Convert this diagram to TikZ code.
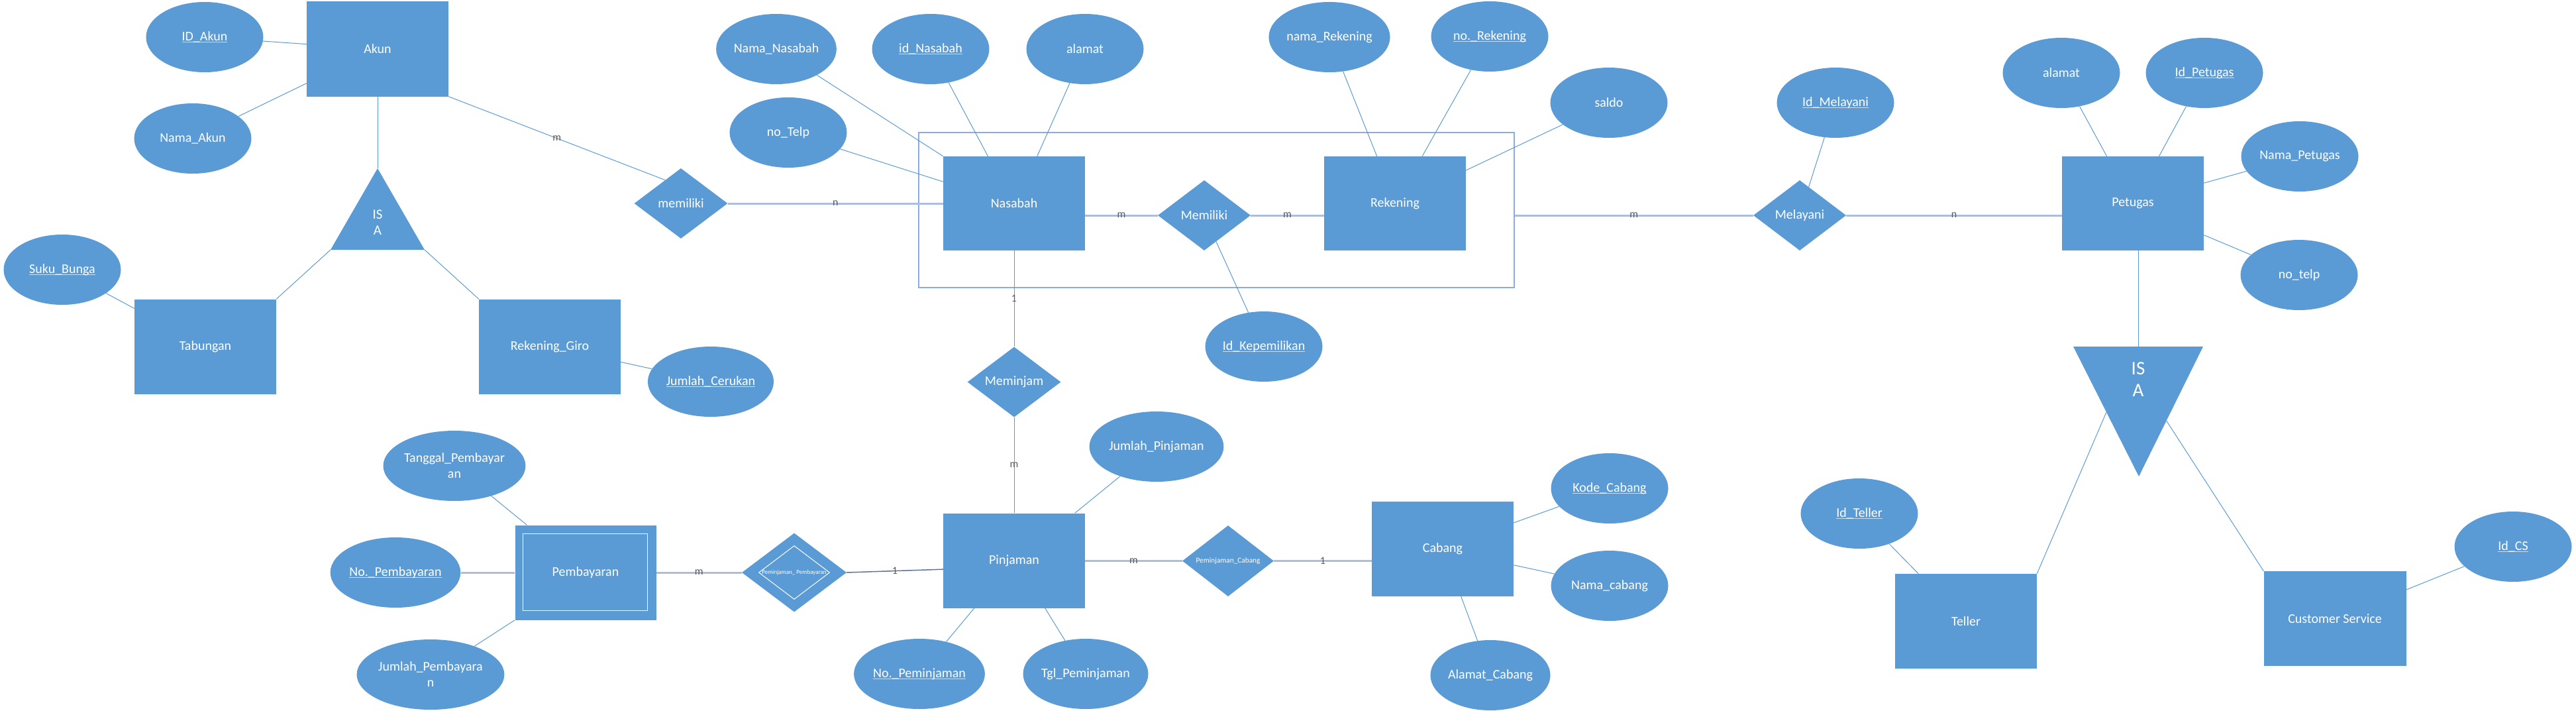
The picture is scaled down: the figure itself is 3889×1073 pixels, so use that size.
\documentclass[tikz,border=0pt]{standalone}
\usepackage{fontspec}
\setmainfont{Carlito}
\usetikzlibrary{shapes.geometric,calc}
\definecolor{fillb}{HTML}{5B9BD5}
\definecolor{thinl}{HTML}{5B9BD5}
\definecolor{thickl}{HTML}{A9BFDD}
\definecolor{darkl}{HTML}{5E7392}
\definecolor{lbl}{HTML}{595959}
\definecolor{aggc}{HTML}{8FAADC}
\definecolor{ulc}{HTML}{C9DDF0}
\newcommand\ulx[1]{\setbox0\hbox{#1}\rlap{\color{ulc}\rule[-3pt]{\wd0}{1.3pt}}\box0}
\begin{document}
\begin{tikzpicture}[x=1pt,y=-1pt,
  ent/.style={rectangle, fill=fillb, minimum width=214pt, minimum height=143pt, inner sep=0pt, text=white, font=\fontsize{20}{24}\selectfont},
  attr/.style={ellipse, fill=fillb, minimum width=177pt, minimum height=106pt, inner sep=0pt, text=white, align=center, font=\fontsize{20}{24}\selectfont},
  relsh/.style={diamond, fill=fillb, aspect=1.33, minimum width=141pt, minimum height=106pt, inner sep=0pt, text=white, font=\fontsize{20}{24}\selectfont},
  isatxt/.style={text=white, inner sep=0pt, font=\fontsize{21}{24}\selectfont},
  thinln/.style={draw=thinl, line width=1pt},
  thickln/.style={draw=thickl, line width=3pt},
  lab/.style={text=lbl, inner sep=1pt, font=\fontsize{16}{18}\selectfont}]
\useasboundingbox (0,0) rectangle (3889,1073);

% aggregation box
\node[draw=aggc, line width=1.5pt, minimum width=899pt, minimum height=234pt, inner sep=0pt] (agg) at (1836.5,317) {};

% entities
\node[ent] (akun) at (570,74) {Akun};
\node[ent] (tabungan) at (310,523) {Tabungan};
\node[ent] (giro) at (830,523) {Rekening\_Giro};
\node[ent, minimum height=142pt] (nasabah) at (1531,307) {Nasabah};
\node[ent, minimum height=142pt] (rekening) at (2106,307) {Rekening};
\node[ent, minimum height=142pt] (petugas) at (3220,307) {Petugas};
\node[ent] (pinjaman) at (1531,846) {Pinjaman};
\node[ent, minimum width=213pt] (pembayaran) at (884,864) {Pembayaran};
\draw[white, line width=1pt] ($(pembayaran.north west)+(12,13.5)$) rectangle ($(pembayaran.south east)+(-13,-14.5)$);
\node[ent] (cabang) at (2178,828) {Cabang};
\node[ent] (teller) at (2968,937.5) {Teller};
\node[ent, minimum width=215pt] (cs) at (3525,933.5) {Customer Service};

% attributes
\node[attr] (idakun) at (309,56) {\ulx{ID\_Akun}};
\node[attr] (namaakun) at (291,209) {Nama\_Akun};
\node[attr] (sukubunga) at (94,407) {\ulx{Suku\_Bunga}};
\node[attr] (jmlcerukan) at (1073,576) {\ulx{Jumlah\_Cerukan}};
\node[attr] (namanasabah) at (1172,74) {Nama\_Nasabah};
\node[attr] (idnasabah) at (1405,74) {\ulx{id\_Nasabah}};
\node[attr] (alamat1) at (1638,74) {alamat};
\node[attr] (notelp1) at (1190,200) {no\_Telp};
\node[attr] (namarek) at (2007,56) {nama\_Rekening};
\node[attr] (norek) at (2249,55) {\ulx{no.\_Rekening}};
\node[attr] (saldo) at (2429,155) {saldo};
\node[attr] (idkep) at (1908,523) {\ulx{Id\_Kepemilikan}};
\node[attr] (idmelayani) at (2771,155) {\ulx{Id\_Melayani}};
\node[attr] (alamat2) at (3112,110) {alamat};
\node[attr] (idpetugas) at (3328,110) {\ulx{Id\_Petugas}};
\node[attr] (namapetugas) at (3472,236) {Nama\_Petugas};
\node[attr] (notelp2) at (3471,415) {no\_telp};
\node[attr] (kodecabang) at (2430,737) {\ulx{Kode\_Cabang}};
\node[attr] (namacabang) at (2430,884) {Nama\_cabang};
\node[attr] (alamatcabang) at (2250,1019) {Alamat\_Cabang};
\node[attr] (jmlpinjaman) at (1746,674) {Jumlah\_Pinjaman};
\node[attr] (tanggal) at (686,703) {Tanggal\_Pembayar\\an};
\node[attr] (nopembayaran) at (597,864) {\ulx{No.\_Pembayaran}};
\node[attr] (jmlpembayaran) at (650,1018) {Jumlah\_Pembayara\\n};
\node[attr] (nopeminjaman) at (1388,1017) {\ulx{No.\_Peminjaman}};
\node[attr] (tglpeminjaman) at (1639,1017) {Tgl\_Peminjaman};
\node[attr] (idteller) at (2807,775) {\ulx{Id\_Teller}};
\node[attr] (idcs) at (3794,825) {\ulx{Id\_CS}};

% relationships
\node[relsh] (memiliki1) at (1028,307) {memiliki};
\node[relsh, minimum width=140pt] (memiliki2) at (1818,325) {Memiliki};
\node[relsh] (meminjam) at (1531,576.5) {Meminjam};
\node[relsh, minimum width=140pt] (melayani) at (2717,325) {Melayani};
\node[relsh, minimum width=158pt, minimum height=119pt, font=\fontsize{9}{10}\selectfont] (pempem) at (1199,864) {Peminjaman\_ Pembayaran};
\node[diamond, draw=white, line width=1pt, aspect=1.33, minimum width=107pt, minimum height=81pt, inner sep=0pt] (pempemin) at (1199,864) {};
\node[relsh, minimum width=138pt, minimum height=107pt, font=\fontsize{11.3}{13}\selectfont] (pemcab) at (1854,846.5) {Peminjaman\_Cabang};

% ISA triangles
\coordinate (isa1t) at (570,254);
\coordinate (isa1l) at (499,377);
\coordinate (isa1r) at (641,377);
\fill[fillb] (isa1t) -- (isa1l) -- (isa1r) -- cycle;
\node[isatxt] (isa1a) at (570,324) {IS};
\node[isatxt] (isa1b) at (570,348) {A};

\coordinate (isa2l) at (3130,523);
\coordinate (isa2r) at (3326,523);
\coordinate (isa2b) at (3229,719);
\coordinate (isa2n) at (3228,523);
\fill[fillb] (isa2l) -- (isa2r) -- (isa2b) -- cycle;
\node[isatxt, font=\fontsize{29}{32}\selectfont] (isa2a) at (3228,556) {IS};
\node[isatxt, font=\fontsize{29}{32}\selectfont] (isa2b2) at (3228,589) {A};
\coordinate (isa2le) at ($(isa2l)!0.505!(isa2b)$);
\coordinate (isa2re) at ($(isa2r)!0.571!(isa2b)$);

% connectors: Akun side
\draw[thinln] (idakun) -- (akun);
\draw[thinln] (namaakun) -- (akun);
\draw[thinln] (akun.south) -- (isa1t);
\draw[thinln] (isa1l) -- (tabungan.north east);
\draw[thinln] (isa1r) -- (giro.north west);
\draw[thinln] (sukubunga) -- (tabungan);
\draw[thinln] (giro) -- (jmlcerukan);
\draw[thinln] (akun.south east) -- (memiliki1.124) node[lab, pos=0.5] (lm1) {m};
\draw[thickln] (memiliki1.east) -- (nasabah.west |- memiliki1.east) node[lab, pos=0.5] (ln1) {n};

% Nasabah / Rekening
\draw[thinln] (namanasabah) -- (nasabah.north west);
\draw[thinln] (notelp1) -- (nasabah.163);
\draw[thinln] (idnasabah) -- (nasabah.119);
\draw[thinln] (alamat1) -- (nasabah.64);
\draw[thinln] (namarek) -- (rekening.111);
\draw[thinln] (norek) -- (rekening.60);
\draw[thinln] (saldo) -- (rekening.25);
\draw[thickln] (nasabah.east |- memiliki2.west) -- (memiliki2.west) node[lab, pos=0.5] (lm2) {m};
\draw[thickln] (memiliki2.east) -- (rekening.west |- memiliki2.east) node[lab, pos=0.5] (lm3) {m};
\draw[thinln] (memiliki2) -- (idkep);
\draw[thinln] (nasabah.south) -- (meminjam.north) node[lab, pos=0.5] (l11) {1};
\draw[thinln] (meminjam.south) -- (pinjaman.north) node[lab, pos=0.5] (lm4) {m};

% Melayani / Petugas
\draw[thickln] (agg.east |- melayani.west) -- (melayani.west) node[lab, pos=0.5] (lm5) {m};
\draw[thickln] (melayani.east) -- (petugas.west |- melayani.east) node[lab, pos=0.5] (ln2) {n};
\draw[thinln] (idmelayani) -- (melayani);
\draw[thinln] (alamat2) -- (petugas.119);
\draw[thinln] (idpetugas) -- (petugas.61);
\draw[thinln] (namapetugas) -- (petugas.16);
\draw[thinln] (notelp2) -- (petugas.-24);
\draw[thinln] (petugas.south -| isa2n) -- (isa2n);
\draw[thinln] (isa2le) -- (teller.north east);
\draw[thinln] (isa2re) -- (cs.north west);
\draw[thinln] (idteller) -- (teller.135);
\draw[thinln] (idcs) -- (cs.22);

% Pinjaman / Cabang / Pembayaran
\draw[thinln] (jmlpinjaman) -- (pinjaman.38.5);
\draw[thinln] (nopeminjaman) -- (pinjaman.230);
\draw[thinln] (tglpeminjaman) -- (pinjaman.-57);
\draw[thickln] (pinjaman.east |- pemcab.west) -- (pemcab.west) node[lab, pos=0.5] (lm6) {m};
\draw[thickln] (pemcab.east) -- (cabang.west |- pemcab.east) node[lab, pos=0.5] (l12) {1};
\draw[thinln] (kodecabang) -- (cabang.20);
\draw[thinln] (namacabang) -- (cabang.-13);
\draw[thinln] (alamatcabang) -- (cabang.-69);
\draw[thickln] (pembayaran.east) -- (pempem.west) node[lab, pos=0.5] (lm7) {m};
\draw[draw=darkl, line width=1.5pt] (pempem.east) -- (pinjaman.187.5) node[lab, pos=0.5] (l13) {1};
\draw[thinln] (tanggal) -- (pembayaran.141);
\draw[thickln] (nopembayaran) -- (pembayaran);
\draw[thinln] (jmlpembayaran) -- (pembayaran.south west);
\end{tikzpicture}
\end{document}
